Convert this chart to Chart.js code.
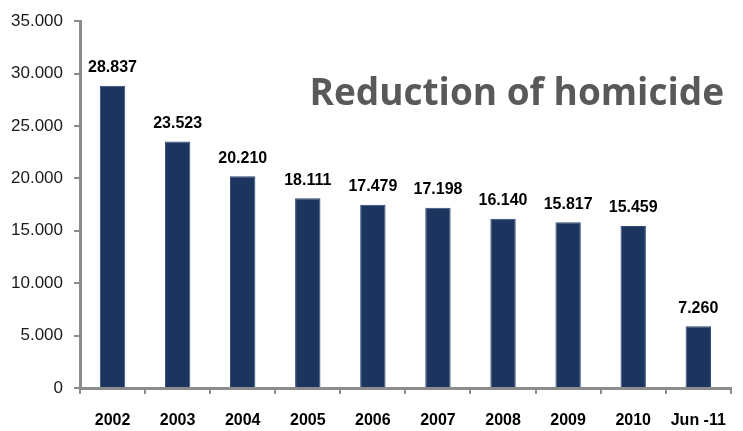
<!DOCTYPE html>
<html>
<head>
<meta charset="utf-8">
<script src="https://cdn.jsdelivr.net/npm/chart.js@4"></script>
<style>
  html, body { margin: 0; padding: 0; background: #fff; }
  #wrap { width: 743px; height: 431px; position: relative; }
</style>
</head>
<body>
<div id="wrap"><canvas id="homicideChart" width="743" height="431"></canvas></div>
<script>
// values (the Jun -11 bar is drawn shorter than its label says)
const years = ["2002", "2003", "2004", "2005", "2006", "2007", "2008", "2009", "2010", "Jun -11"];
const homicides = [28837, 23523, 20210, 18111, 17479, 17198, 16140, 15817, 15459, 5900];
const valueLabels = ["28.837", "23.523", "20.210", "18.111", "17.479", "17.198", "16.140", "15.817", "15.459", "7.260"];
const chartTitle = "Reduction of homicide";

document.addEventListener("DOMContentLoaded", () => {
  const axisGray = "#8c8c8c";

  // bold numbers above each bar
  const barLabels = {
    id: "barLabels",
    afterDatasetsDraw(chart) {
      const ctx = chart.ctx;
      const meta = chart.getDatasetMeta(0);
      ctx.save();
      ctx.font = "bold 16px 'Liberation Sans', Arial, sans-serif";
      ctx.fillStyle = "#000";
      ctx.textAlign = "center";
      ctx.textBaseline = "bottom";
      meta.data.forEach((bar, i) => {
        ctx.fillText(valueLabels[i], bar.x, bar.y - 10);
      });
      ctx.restore();
    }
  };

  // big grey title sitting inside the plot
  const innerTitle = {
    id: "innerTitle",
    afterDraw(chart) {
      const ctx = chart.ctx;
      ctx.save();
      ctx.font = "bold 37px 'Open Sans', sans-serif";
      ctx.fillStyle = "#595959";
      ctx.textAlign = "right";
      ctx.textBaseline = "middle";
      ctx.fillText(chartTitle, 724, 94);
      ctx.restore();
    }
  };

  const ctx = document.getElementById("homicideChart").getContext("2d");
  new Chart(ctx, {
    type: "bar",
    data: {
      labels: years,
      datasets: [
        {
          data: homicides,
          backgroundColor: "#1c355e",
          borderColor: "#2e4a75",
          borderWidth: 1,
          barPercentage: 0.39,
          categoryPercentage: 1
        }
      ]
    },
    plugins: [barLabels, innerTitle],
    options: {
      responsive: false,
      animation: false,
      layout: { padding: { top: 20, right: 3, left: 0, bottom: 0 } },
      plugins: {
        legend: { display: false },
        tooltip: { enabled: false }
      },
      scales: {
        x: {
          afterFit: (scale) => { scale.height = 43; },
          grid: {
            drawOnChartArea: false,
            tickLength: 6,
            color: axisGray,
            lineWidth: 2
          },
          border: { color: axisGray, width: 3 },
          ticks: {
            color: "#000",
            padding: 17,
            font: { family: "'Liberation Sans', Arial, sans-serif", size: 16, weight: "bold" }
          }
        },
        y: {
          min: 0,
          max: 35000,
          afterFit: (scale) => { scale.width = 80; },
          grid: {
            drawOnChartArea: false,
            tickLength: 6,
            color: axisGray,
            lineWidth: 2
          },
          border: { color: axisGray, width: 3 },
          ticks: {
            stepSize: 5000,
            color: "#1a1a1a",
            padding: 11,
            font: { family: "'Liberation Sans', Arial, sans-serif", size: 17 },
            callback: (v) => (v === 0 ? "0" : (v / 1000).toFixed(3))
          }
        }
      }
    }
  });
});
</script>
</body>
</html>
